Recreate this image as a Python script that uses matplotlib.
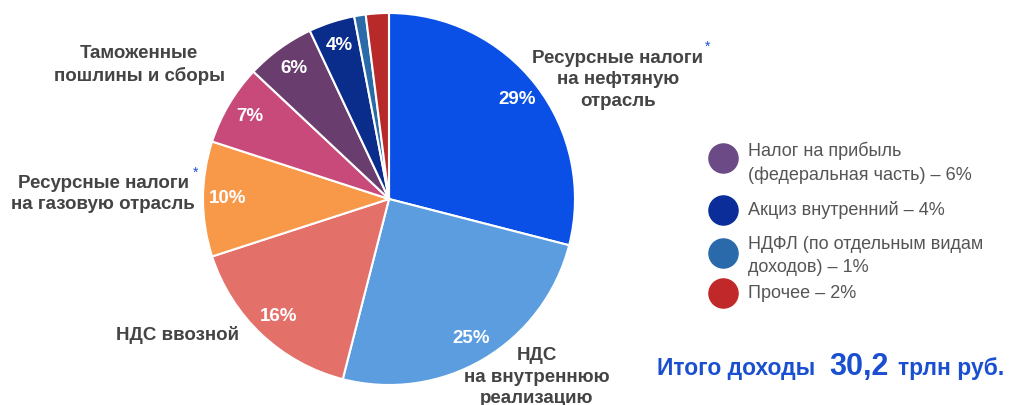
"""Федеральный бюджет: структура доходов (круговая диаграмма)."""

import matplotlib.pyplot as plt

plt.rcParams["font.family"] = ["Liberation Sans", "DejaVu Sans"]

W, H = 1013, 405

# доли доходов, %, по часовой стрелке от 12 часов
shares = [29, 25, 16, 10, 7, 6, 4, 1, 2]
colors = ["#0b50e6", "#5b9ddf", "#e4706a", "#f8994a", "#c84a7b",
          "#6a3d6f", "#0a2d8c", "#2a6aa8", "#b82a2a"]

legend_labels = [
    "Налог на прибыль\n(федеральная часть) – 6%",
    "Акциз внутренний – 4%",
    "НДФЛ (по отдельным видам\nдоходов) – 1%",
    "Прочее – 2%",
]
legend_colors = ["#6b4a85", "#0a2d9a", "#2a6aaa", "#c0282a"]

TEXT = "#444444"
ACCENT = "#1a4fd0"

fig = plt.figure(figsize=(W / 100, H / 100), dpi=100)

# круг: центр (389, 199), радиус 186 px
cx, cy, r = 389, 199, 186
ax = fig.add_axes([(cx - r) / W, (H - cy - r) / H, 2 * r / W, 2 * r / H])
ax.pie(
    shares, colors=colors, startangle=90, counterclock=False,
    autopct=lambda p: f"{p:.0f}%" if p >= 3 else "",
    pctdistance=0.87,
    wedgeprops=dict(edgecolor="white", linewidth=1.5),
    textprops=dict(color="white", fontsize=13.5, fontweight="bold"),
)
ax.set_xlim(-1, 1)
ax.set_ylim(-1, 1)
ax.set_aspect("equal")

# слой для подписей в пиксельных координатах
ov = fig.add_axes([0, 0, 1, 1], facecolor="none")
ov.set_xlim(0, W)
ov.set_ylim(H, 0)
ov.axis("off")

lbl = dict(color=TEXT, fontsize=13.5, fontweight="bold", ha="center",
           va="center", linespacing=1.35)
ov.text(618, 80, "Ресурсные налоги\nна нефтяную\nотрасль", **lbl)
ov.text(708, 47, "*", color=ACCENT, fontsize=10, ha="center", va="center")
ov.text(139, 65, "Таможенные\nпошлины и сборы", **lbl)
ov.text(103, 194, "Ресурсные налоги\nна газовую отрасль", **lbl)
ov.text(196, 173, "*", color=ACCENT, fontsize=10, ha="center", va="center")
ov.text(178, 335, "НДС ввозной", **lbl)
ov.text(537, 377, "НДС\nна внутреннюю\nреализацию", **lbl)

# легенда
marker_y = [158, 210, 253, 293]
text_y = [163, 210, 256, 293]
for my, ty, c, t in zip(marker_y, text_y, legend_colors, legend_labels):
    ov.scatter([723], [my], s=440, color=c, zorder=3)
    ov.text(748, ty, t, color="#555555", fontsize=13, ha="left",
            va="center", linespacing=1.45)

# итог
ov.text(657, 375, "Итого доходы", color=ACCENT, fontsize=16.5,
        fontweight="bold", ha="left", va="baseline")
ov.text(829, 375, "30,2", color=ACCENT, fontsize=22,
        fontweight="bold", ha="left", va="baseline")
ov.text(898, 375, "трлн руб.", color=ACCENT, fontsize=16.5,
        fontweight="bold", ha="left", va="baseline")

fig.savefig("out.png", dpi=100, facecolor="white")
